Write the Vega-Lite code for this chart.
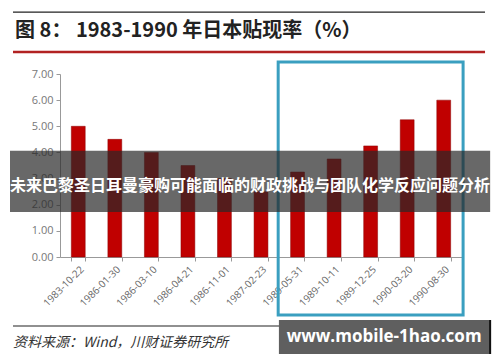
{
  "$schema": "https://vega.github.io/schema/vega-lite/v6.json",
  "width": 402,
  "height": 183,
  "autosize": {"type": "none"},
  "padding": {"left": 60, "top": 74, "right": 38, "bottom": 105},
  "background": "white",
  "config": {"view": {"stroke": null}},
  "resolve": {"scale": {"x": "independent"}, "axis": {"y": "independent"}},
  "layer": [
    {
      "data": {"values": [
        {"date": "1983-10-22", "rate": 5.0},
        {"date": "1986-01-30", "rate": 4.5},
        {"date": "1986-03-10", "rate": 4.0},
        {"date": "1986-04-21", "rate": 3.5},
        {"date": "1986-11-01", "rate": 3.0},
        {"date": "1987-02-23", "rate": 2.5},
        {"date": "1989-05-31", "rate": 3.25},
        {"date": "1989-10-11", "rate": 3.75},
        {"date": "1989-12-25", "rate": 4.25},
        {"date": "1990-03-20", "rate": 5.25},
        {"date": "1990-08-30", "rate": 6.0}
      ]},
      "mark": {"type": "bar", "color": "#c00000", "stroke": "#8a0000", "strokeWidth": 0.5},
      "encoding": {
        "x": {"field": "date", "type": "nominal", "sort": null,
          "scale": {"paddingInner": 0.62, "paddingOuter": 0.31},
          "axis": {"title": null, "labelAngle": -45, "labelFontSize": 10, "labelColor": "#666", "labelFont": "Open Sans",
            "tickBand": "extent", "domainColor": "#999", "tickColor": "#999", "tickSize": 4, "labelPadding": 3, "labelOverlap": false}},
        "y": {"field": "rate", "type": "quantitative",
          "scale": {"domain": [0, 7], "nice": false, "zero": true},
          "axis": {"title": null, "values": [0, 1, 2, 3, 4, 5, 6, 7], "format": ".2f", "grid": false, "labelOverlap": false,
            "labelFontSize": 11, "labelColor": "#777", "labelFont": "Open Sans", "domainColor": "#999", "tickColor": "#999", "tickSize": 4, "labelPadding": 3}}
      }
    },
    {
      "data": {"values": [{"x1": 5.97, "x2": 11.03, "y1": 7.46, "y2": -2.22}]},
      "mark": {"type": "rect", "fill": null, "fillOpacity": 0, "stroke": "#3a9fc0", "strokeWidth": 3},
      "encoding": {
        "x": {"field": "x1", "type": "quantitative", "scale": {"domain": [0, 11], "nice": false, "zero": false}, "axis": null},
        "x2": {"field": "x2"},
        "y": {"field": "y1", "type": "quantitative", "scale": {"domain": [0, 7], "nice": false}, "axis": null},
        "y2": {"field": "y2"}
      }
    },
    {
      "data": {"values": [
        {"x1": -1.286, "x2": 11.63, "y": 9.37, "c": "top"},
        {"x1": -1.286, "x2": 11.63, "y": -2.64, "c": "bottom"}
      ]},
      "mark": {"type": "rule", "color": "#222", "strokeWidth": 1.2},
      "encoding": {
        "x": {"field": "x1", "type": "quantitative", "scale": {"domain": [0, 11], "nice": false, "zero": false}, "axis": null},
        "x2": {"field": "x2"},
        "y": {"field": "y", "type": "quantitative", "scale": {"domain": [0, 7], "nice": false}, "axis": null}
      }
    },
    {
      "data": {"values": [{"x1": -1.286, "x2": 11.63, "y": 7.84}]},
      "mark": {"type": "rule", "color": "#b22222", "strokeWidth": 2.5},
      "encoding": {
        "x": {"field": "x1", "type": "quantitative", "scale": {"domain": [0, 11], "nice": false, "zero": false}, "axis": null},
        "x2": {"field": "x2"},
        "y": {"field": "y", "type": "quantitative", "scale": {"domain": [0, 7], "nice": false}, "axis": null}
      }
    },
    {
      "data": {"values": [{"x": -1.23, "y": 8.65, "t": "图 8：  1983-1990 年日本贴现率（%）"}]},
      "mark": {"type": "text", "align": "left", "baseline": "middle", "font": "Noto Sans CJK SC", "fontSize": 20, "fontWeight": "bold", "color": "#222"},
      "encoding": {
        "x": {"field": "x", "type": "quantitative", "scale": {"domain": [0, 11], "nice": false, "zero": false}, "axis": null},
        "y": {"field": "y", "type": "quantitative", "scale": {"domain": [0, 7], "nice": false}, "axis": null},
        "text": {"field": "t"}
      }
    },
    {
      "data": {"values": [{"x": -1.286, "y": -3.29, "t": "资料来源：Wind，川财证券研究所"}]},
      "mark": {"type": "text", "align": "left", "baseline": "middle", "font": "Noto Sans CJK SC", "fontSize": 14, "fontStyle": "italic", "color": "#333"},
      "encoding": {
        "x": {"field": "x", "type": "quantitative", "scale": {"domain": [0, 11], "nice": false, "zero": false}, "axis": null},
        "y": {"field": "y", "type": "quantitative", "scale": {"domain": [0, 7], "nice": false}, "axis": null},
        "text": {"field": "t"}
      }
    },
    {
      "data": {"values": [{"x1": 5.99, "x2": 11.77, "y1": -2.41, "y2": -3.71}]},
      "mark": {"type": "rect", "color": "#5f5f5f"},
      "encoding": {
        "x": {"field": "x1", "type": "quantitative", "scale": {"domain": [0, 11], "nice": false, "zero": false}, "axis": null},
        "x2": {"field": "x2"},
        "y": {"field": "y1", "type": "quantitative", "scale": {"domain": [0, 7], "nice": false}, "axis": null},
        "y2": {"field": "y2"}
      }
    },
    {
      "data": {"values": [{"x": 11.77, "y1": -2.41, "y2": -3.71}]},
      "mark": {"type": "rule", "color": "#111", "strokeWidth": 2},
      "encoding": {
        "x": {"field": "x", "type": "quantitative", "scale": {"domain": [0, 11], "nice": false, "zero": false}, "axis": null},
        "y": {"field": "y1", "type": "quantitative", "scale": {"domain": [0, 7], "nice": false}, "axis": null},
        "y2": {"field": "y2"}
      }
    },
    {
      "data": {"values": [{"x": 8.87, "y": -3.06, "t": "www.mobile-1hao.com"}]},
      "mark": {"type": "text", "align": "center", "baseline": "middle", "font": "Open Sans", "fontSize": 17, "fontWeight": "bold", "color": "white"},
      "encoding": {
        "x": {"field": "x", "type": "quantitative", "scale": {"domain": [0, 11], "nice": false, "zero": false}, "axis": null},
        "y": {"field": "y", "type": "quantitative", "scale": {"domain": [0, 7], "nice": false}, "axis": null},
        "text": {"field": "t"}
      }
    },
    {
      "data": {"values": [{"x1": -1.368, "x2": 11.77, "y1": 4.06, "y2": 1.72}]},
      "mark": {"type": "rect", "color": "#282828", "opacity": 0.7},
      "encoding": {
        "x": {"field": "x1", "type": "quantitative", "scale": {"domain": [0, 11], "nice": false, "zero": false}, "axis": null},
        "x2": {"field": "x2"},
        "y": {"field": "y1", "type": "quantitative", "scale": {"domain": [0, 7], "nice": false}, "axis": null},
        "y2": {"field": "y2"}
      }
    },
    {
      "data": {"values": [{"x": 5.2, "y": 2.72, "t": "未来巴黎圣日耳曼豪购可能面临的财政挑战与团队化学反应问题分析"}]},
      "mark": {"type": "text", "align": "center", "baseline": "middle", "font": "Noto Sans CJK SC", "fontSize": 16, "fontWeight": "bold", "color": "white"},
      "encoding": {
        "x": {"field": "x", "type": "quantitative", "scale": {"domain": [0, 11], "nice": false, "zero": false}, "axis": null},
        "y": {"field": "y", "type": "quantitative", "scale": {"domain": [0, 7], "nice": false}, "axis": null},
        "text": {"field": "t"}
      }
    }
  ]
}
